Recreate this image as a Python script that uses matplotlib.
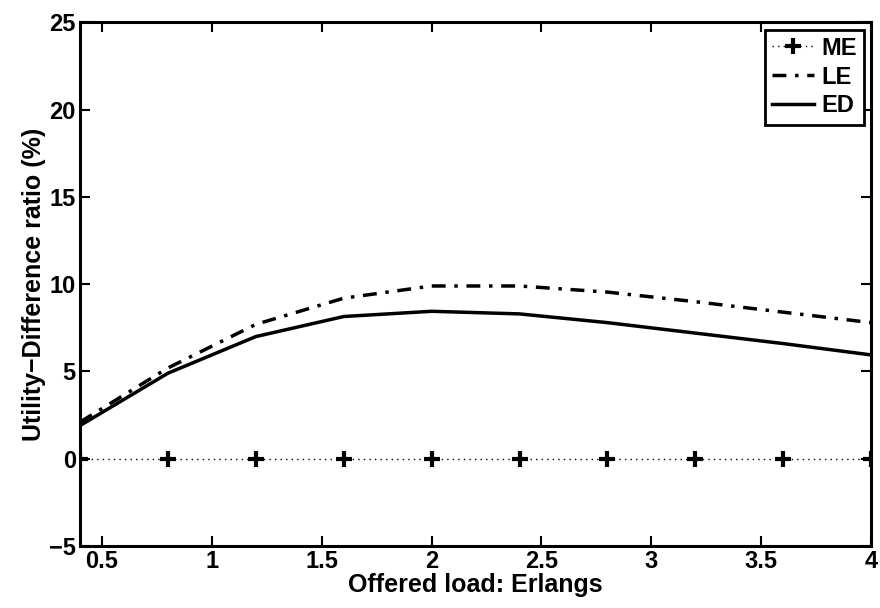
import numpy as np
import matplotlib
matplotlib.use("Agg")
import matplotlib.pyplot as plt

plt.rcParams['font.family'] = ['Liberation Sans', 'DejaVu Sans']
plt.rcParams['font.weight'] = 'bold'

# Offered load (Erlangs)
load = [0.4, 0.8, 1.2, 1.6, 2.0, 2.4, 2.8, 3.2, 3.6, 4.0]

# Utility-difference ratio (%) for each scheme
me_ratio = [0, 0, 0, 0, 0, 0, 0, 0, 0, 0]
le_ratio = [2.1, 5.2, 7.7, 9.2, 9.9, 9.9, 9.55, 9.0, 8.4, 7.8]
ed_ratio = [1.9, 4.9, 7.0, 8.15, 8.45, 8.3, 7.8, 7.2, 6.6, 5.95]

xticks = [0.5, 1, 1.5, 2, 2.5, 3, 3.5, 4]
xtick_labels = ['0.5', '1', '1.5', '2', '2.5', '3', '3.5', '4']
yticks = [-5, 0, 5, 10, 15, 20, 25]
ytick_labels = ['\u22125', '0', '5', '10', '15', '20', '25']

fig = plt.figure(figsize=(8.8, 6.08), dpi=100)
ax = fig.add_axes([0.0909, 0.102, 0.899, 0.861])

ax.plot(load, me_ratio, color='black', linestyle=(0, (1, 3)), linewidth=1.0,
        marker='+', markersize=11, markeredgewidth=3, label='ME')
ax.plot(load, le_ratio, color='black', linestyle=(0, (4, 2.5, 1, 2.5)),
        linewidth=2.5, label='LE')
ax.plot(load, ed_ratio, color='black', linestyle='-', linewidth=2.5, label='ED')

ax.set_xlim(0.4, 4)
ax.set_ylim(-5, 25)
ax.set_xticks(xticks)
ax.set_xticklabels(xtick_labels)
ax.set_yticks(yticks)
ax.set_yticklabels(ytick_labels)
ax.tick_params(direction='in', length=7, width=1.5, labelsize=17,
               top=True, right=True, pad=3)
for lab in ax.get_xticklabels() + ax.get_yticklabels():
    lab.set_fontweight('bold')
for sp in ax.spines.values():
    sp.set_linewidth(2.2)

ax.set_xlabel('Offered load: Erlangs', fontsize=18, fontweight='bold', labelpad=0)
ax.set_ylabel('Utility\u2212Difference ratio (%)', fontsize=18, fontweight='bold',
              labelpad=2)

leg = ax.legend(loc='upper right', fontsize=17, handlelength=1.8,
                handletextpad=0.3, borderpad=0.3, labelspacing=0.25,
                fancybox=False, framealpha=1, edgecolor='black',
                borderaxespad=0.3)
leg.get_frame().set_linewidth(2.0)
for t in leg.get_texts():
    t.set_fontweight('bold')

fig.savefig('out.png', dpi=100, facecolor='white')
